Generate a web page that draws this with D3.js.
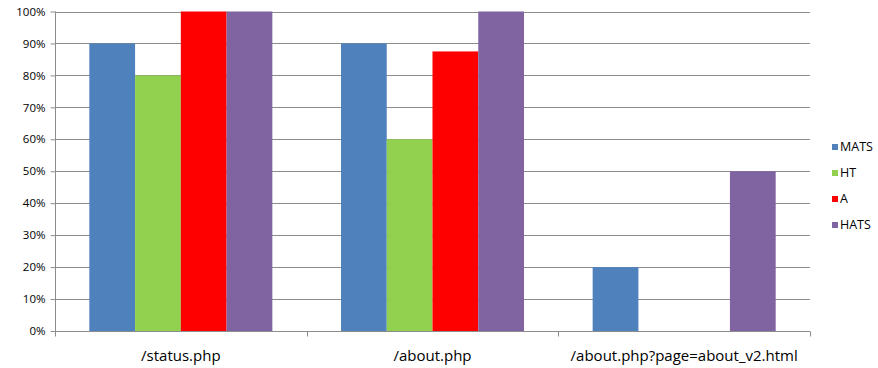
<!DOCTYPE html>
<html>
<head>
<meta charset="utf-8">
<script src="https://cdn.jsdelivr.net/npm/d3@7"></script>
<style>
  body { margin: 0; background: #fff; }
  text { font-family: "Open Sans", "DejaVu Sans", sans-serif; fill: #000; }
</style>
</head>
<body>
<div id="chart"></div>
<script>
// chart data
var categories = ["/status.php", "/about.php", "/about.php?page=about_v2.html"];
var seriesNames = ["MATS", "HT", "A", "HATS"];
var MATS = [0.90, 0.90, 0.20];
var HT = [0.80, 0.60, 0];
var A = [1.00, 0.875, 0];
var HATS = [1.00, 1.00, 0.50];
var yTicks = [0, 0.1, 0.2, 0.3, 0.4, 0.5, 0.6, 0.7, 0.8, 0.9, 1.0];

var colors = ["#4F81BD", "#92D050", "#FF0000", "#8064A2"];
var seriesValues = [MATS, HT, A, HATS];

var width = 878, height = 368;
// plot area edges (window.top is reserved, so no plain "top")
var plotLeft = 55, plotRight = 810, plotTop = 11.5, plotBottom = 331;

var svg = d3.select("#chart").append("svg")
    .attr("width", width)
    .attr("height", height);

var y = d3.scaleLinear().domain([0, 1]).range([plotBottom, plotTop]);

var x0 = d3.scaleBand()
    .domain(categories)
    .range([plotLeft, plotRight])
    .paddingInner(0)
    .paddingOuter(0);

// gap width about 150% of a bar
var x1 = d3.scaleBand()
    .domain(seriesNames)
    .range([0, x0.bandwidth()])
    .paddingInner(0)
    .paddingOuter(0.75);

// gridlines
svg.append("g")
    .selectAll("line")
    .data(yTicks)
    .enter().append("line")
    .attr("x1", plotLeft)
    .attr("x2", plotRight)
    .attr("y1", function(d) { return Math.round(y(d)) + 0.5; })
    .attr("y2", function(d) { return Math.round(y(d)) + 0.5; })
    .attr("stroke", "#8c8c8c")
    .attr("stroke-width", 1);

// bars
var groups = svg.append("g")
    .selectAll("g")
    .data(categories)
    .enter().append("g")
    .attr("transform", function(d) { return "translate(" + x0(d) + ",0)"; });

groups.selectAll("rect")
    .data(function(d, i) {
        return seriesNames.map(function(s, j) {
            return { name: s, value: seriesValues[j][i], color: colors[j] };
        });
    })
    .enter().append("rect")
    .attr("x", function(d) { return x1(d.name); })
    .attr("width", x1.bandwidth())
    .attr("y", function(d) { return y(d.value); })
    .attr("height", function(d) { return y(0) - y(d.value); })
    .attr("fill", function(d) { return d.color; });

// y axis
var yAxis = d3.axisLeft(y)
    .tickValues(yTicks)
    .tickFormat(d3.format(".0%"))
    .tickSize(5)
    .tickPadding(5);

var yg = svg.append("g")
    .attr("transform", "translate(" + (plotLeft + 0.5) + ",0)")
    .call(yAxis);
yg.select(".domain").attr("stroke", "#8c8c8c").attr("d", "M0," + plotTop + "V" + plotBottom);
yg.selectAll(".tick line").attr("stroke", "#8c8c8c");
yg.selectAll(".tick text").style("font-size", "11.5px").attr("fill", "#000");

// x axis
var xg = svg.append("g")
    .attr("transform", "translate(0," + (Math.round(plotBottom) + 0.5) + ")");
xg.append("line")
    .attr("x1", plotLeft).attr("x2", plotRight)
    .attr("stroke", "#8c8c8c");
var bounds = categories.map(function(c) { return x0(c); }).concat([plotRight]);
xg.selectAll(".xt")
    .data(bounds)
    .enter().append("line")
    .attr("class", "xt")
    .attr("x1", function(d) { return Math.round(d) + 0.5; })
    .attr("x2", function(d) { return Math.round(d) + 0.5; })
    .attr("y1", 0).attr("y2", 5)
    .attr("stroke", "#8c8c8c");
xg.selectAll(".xl")
    .data(categories)
    .enter().append("text")
    .attr("class", "xl")
    .attr("x", function(d) { return x0(d) + x0.bandwidth() / 2; })
    .attr("y", 29)
    .attr("text-anchor", "middle")
    .style("font-size", "15px")
    .text(function(d) { return d; });

// legend
var legend = svg.append("g")
    .selectAll("g")
    .data(seriesNames)
    .enter().append("g")
    .attr("transform", function(d, i) { return "translate(832," + (147 + i * 26) + ")"; });
legend.append("rect")
    .attr("x", 0).attr("y", -3)
    .attr("width", 6).attr("height", 6)
    .attr("fill", function(d, i) { return colors[i]; });
legend.append("text")
    .attr("x", 8)
    .attr("dy", "0.35em")
    .style("font-size", "12.5px")
    .text(function(d) { return d; });
</script>
</body>
</html>
